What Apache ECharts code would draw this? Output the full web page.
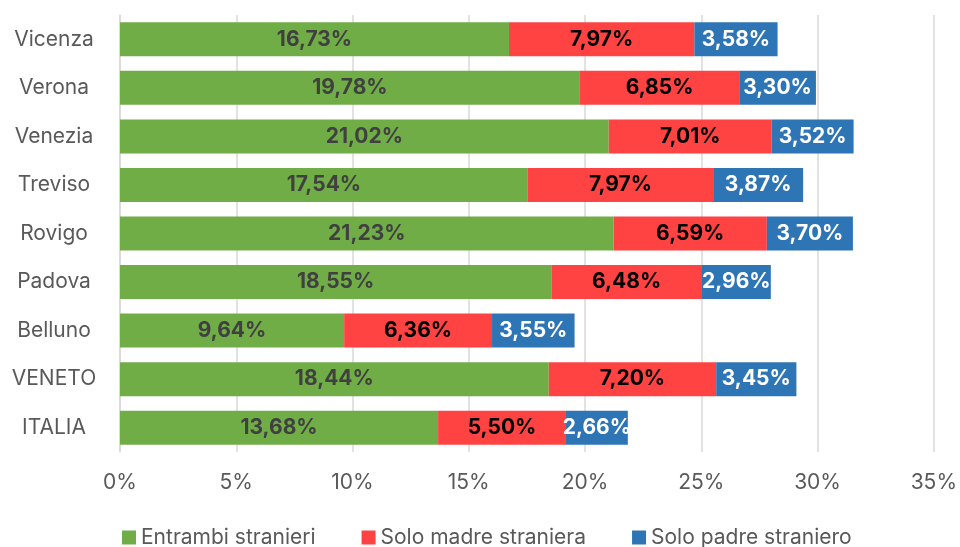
<!DOCTYPE html>
<html>
<head>
<meta charset="utf-8">
<script src="https://cdn.jsdelivr.net/npm/echarts@6/dist/echarts.min.js"></script>
<style>
  html, body { margin: 0; padding: 0; background: #fff; }
  #chart { width: 960px; height: 547px; }
</style>
</head>
<body>
<div id="chart"></div>
<script>
// categories top to bottom
const categories = ['Vicenza', 'Verona', 'Venezia', 'Treviso', 'Rovigo', 'Padova', 'Belluno', 'VENETO', 'ITALIA']
const entrambi = [16.73, 19.78, 21.02, 17.54, 21.23, 18.55, 9.64, 18.44, 13.68]
const soloMadre = [7.97, 6.85, 7.01, 7.97, 6.59, 6.48, 6.36, 7.20, 5.50]
const soloPadre = [3.58, 3.30, 3.52, 3.87, 3.70, 2.96, 3.55, 3.45, 2.66]
const seriesNames = ['Entrambi stranieri', 'Solo madre straniera', 'Solo padre straniero']

const font = 'Inter, "Noto Sans", sans-serif'
const fmt = p => p.value.toFixed(2).replace('.', ',') + '%'

function bar(name, data, color, labelColor) {
  return {
    name: name,
    type: 'bar',
    stack: 'tot',
    data: data,
    barCategoryGap: '30%',
    itemStyle: { color: color },
    label: {
      show: true,
      position: 'inside',
      formatter: fmt,
      color: labelColor,
      fontWeight: 'bold',
      fontSize: 21,
      fontFamily: font
    },
    emphasis: { disabled: true }
  }
}

const chart = echarts.init(document.getElementById('chart'))
chart.setOption({
  animation: false,
  grid: { left: 120, right: 26, top: 15, height: 437 },
  legend: {
    data: seriesNames,
    left: 117,
    top: 522,
    itemWidth: 14,
    itemHeight: 14,
    itemGap: 46,
    itemStyle: { borderWidth: 0 },
    icon: 'rect',
    textStyle: { fontSize: 21, color: '#595959', fontFamily: font }
  },
  xAxis: {
    type: 'value',
    min: 0,
    max: 35,
    interval: 5,
    axisLabel: {
      formatter: '{value}%',
      fontSize: 21,
      color: '#595959',
      margin: 20,
      fontFamily: font
    },
    splitLine: { lineStyle: { color: '#d9d9d9', width: 1.5 } },
    axisLine: { show: false },
    axisTick: { show: false }
  },
  yAxis: {
    type: 'category',
    data: categories,
    inverse: true,
    axisLine: { show: true, lineStyle: { color: '#d9d9d9', width: 1.5 } },
    axisTick: { show: false },
    axisLabel: {
      fontSize: 21,
      color: '#595959',
      align: 'center',
      margin: 66,
      fontFamily: font
    }
  },
  series: [
    bar(seriesNames[0], entrambi, '#70AD47', '#404040'),
    bar(seriesNames[1], soloMadre, '#FF4343', '#000000'),
    bar(seriesNames[2], soloPadre, '#2E75B6', '#ffffff')
  ]
})
</script>
</body>
</html>
